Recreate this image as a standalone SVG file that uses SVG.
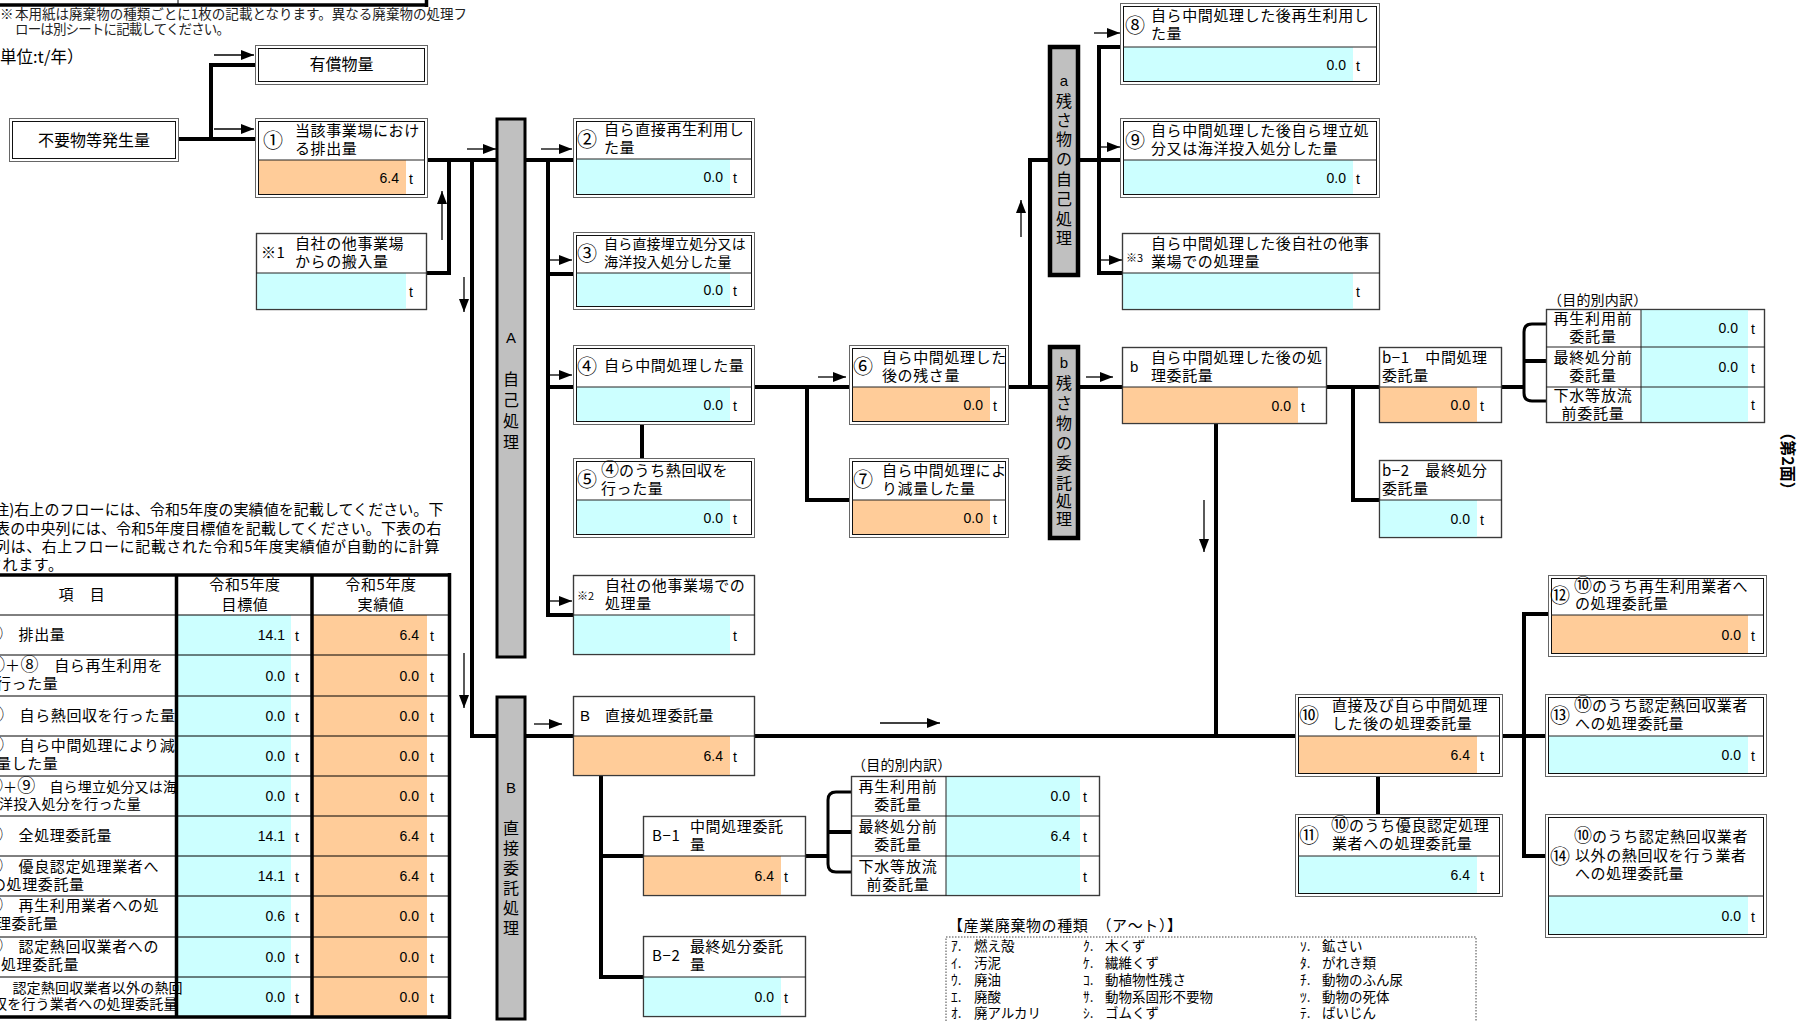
<svg xmlns="http://www.w3.org/2000/svg" width="1798" height="1021" viewBox="0 0 1798 1021">
<defs>
<marker id="ah" markerUnits="userSpaceOnUse" markerWidth="14" markerHeight="10" refX="13" refY="5" orient="auto"><path d="M0,0 L13,5 L0,10 z" fill="#000"/></marker>
<style>
.ob{fill:#fff;stroke:#666;stroke-width:1}
.ib{fill:none;stroke:#111;stroke-width:1}
.sb{fill:#fff;stroke:#3a3a3a;stroke-width:1.2}
.so{fill:none;stroke:#3a3a3a;stroke-width:1.2}
.sep{stroke:#222;stroke-width:1}
.or{fill:#FFCC99}
.cy{fill:#CCFFFF}
.bar{fill:#C0C0C0;stroke:#000;stroke-width:3}
.bar2{fill:#C0C0C0;stroke:#000;stroke-width:4.5}
.jt{font-family:"Noto Sans CJK JP","Noto Sans",sans-serif;font-size:15px;letter-spacing:0.6px;fill:#000}
.js{font-family:"Noto Sans CJK JP","Noto Sans",sans-serif;font-size:14px;letter-spacing:0.2px;fill:#000}
.jx{font-family:"Noto Sans CJK JP","Noto Sans",sans-serif;font-size:11px;fill:#000}
.jc{font-family:"Noto Sans CJK JP","Noto Sans",sans-serif;font-size:16px;fill:#000;text-anchor:middle}
.bt{font-family:"Noto Sans CJK JP","Noto Sans",sans-serif;font-size:16px;fill:#000;text-anchor:middle;dominant-baseline:central}
.lt{font-family:"Liberation Sans",Arial,sans-serif;font-size:15px;fill:#000}
.cn{font-family:"Noto Sans CJK JP","Noto Sans",sans-serif;font-size:20px;fill:#000}
.ci{font-size:18px;letter-spacing:0}
.num{font-family:"Liberation Sans",Arial,sans-serif;font-size:14px;text-anchor:end;fill:#000}
.unit{font-family:"Liberation Sans",Arial,sans-serif;font-size:14px;fill:#000}
.lc{font-family:"Noto Sans CJK JP","Noto Sans",sans-serif;font-size:15px;letter-spacing:0.8px;text-anchor:middle;fill:#000}
.note{font-family:"Noto Sans CJK JP","Noto Sans",sans-serif;font-size:13.5px;fill:#222}
.leg{font-family:"Noto Sans CJK JP","Noto Sans",sans-serif;font-size:13.5px;fill:#000}
.ln{fill:none;stroke:#000;stroke-width:4;stroke-linejoin:miter}
.br{fill:none;stroke:#000;stroke-width:3}
.ar{fill:none;stroke:#000;stroke-width:1.3;marker-end:url(#ah)}
.tl{stroke:#000;stroke-width:1}
.tk{stroke:#000;stroke-width:3.5}
</style>
</defs>
<rect width="1798" height="1021" fill="#fff"/>

<g id="header-fragment">
<line class="tk" x1="0" y1="5" x2="428" y2="5"/>
<line class="tl" x1="178" y1="0" x2="178" y2="4"/>
<line class="tk" x1="426.5" y1="0" x2="426.5" y2="7"/>
</g>

<g id="notes">
<text class="note" x="0" y="19">※</text>
<text class="note" x="15" y="19" textLength="452" lengthAdjust="spacing">本用紙は廃棄物の種類ごとに1枚の記載となります。異なる廃棄物の処理フ</text>
<text class="note" x="15" y="34" textLength="215" lengthAdjust="spacing">ローは別シートに記載してください。</text>
<text class="jt" x="0" y="63" style="font-size:16.5px;letter-spacing:0">単位:t/年）</text>
<text class="jt" x="-11" y="515" textLength="455" lengthAdjust="spacing">(注)右上のフローには、令和5年度の実績値を記載してください。下</text>
<text class="jt" x="-5" y="534" textLength="447" lengthAdjust="spacing">表の中央列には、令和5年度目標値を記載してください。下表の右</text>
<text class="jt" x="-5" y="552" textLength="445" lengthAdjust="spacing">列は、右上フローに記載された令和5年度実績値が自動的に計算</text>
<text class="jt" x="-13" y="570">されます。</text>
</g>

<g id="connectors">
<path class="ln" d="M179,139 H211 V65 H255"/>
<path class="ln" d="M211,139 H255"/>
<path class="ln" d="M428,160 H497"/>
<path class="ln" d="M427,273 H449 V160"/>
<path class="ln" d="M472,160 V736 H497"/>
<path class="ln" d="M525,160 H573"/>
<path class="ln" d="M548,160 V615 H573"/>
<path class="ln" d="M548,274 H573"/>
<path class="ln" d="M548,387 H573"/>
<path class="ln" d="M525,736 H573"/>
<path class="ln" d="M642,425 V458"/>
<path class="ln" d="M755,387 H849"/>
<path class="ln" d="M807,387 V500 H849"/>
<path class="ln" d="M1009,387 H1050"/>
<path class="ln" d="M1030,387 V160 H1050"/>
<path class="ln" d="M1078,160 H1120"/>
<path class="ln" d="M1120,47 H1099 V273 H1122"/>
<path class="ln" d="M1078,387 H1122"/>
<path class="ln" d="M1327,387 H1379"/>
<path class="ln" d="M1353,387 V500 H1379"/>
<path class="ln" d="M1502,387 H1524"/>
<path class="br" d="M1546,324 H1532 Q1524,324 1524,332 V393 Q1524,401 1532,401 H1546"/>
<path class="ln" d="M1524,361 H1546"/>
<path class="ln" d="M1216,424 V736"/>
<path class="ln" d="M755,736 H1295"/>
<path class="ln" d="M1378,777 V814"/>
<path class="ln" d="M1503,736 H1545"/>
<path class="ln" d="M1548,614 H1524 V856 H1545"/>
<path class="ln" d="M601,776 V977 H643"/>
<path class="ln" d="M601,856 H643"/>
<path class="ln" d="M806,856 H828"/>
<path class="br" d="M851,792 H836 Q828,792 828,800 V864 Q828,872 836,872 H851"/>
<path class="ln" d="M828,832 H851"/>
<path class="ar" d="M214,55 H254"/>
<path class="ar" d="M214,129 H254"/>
<path class="ar" d="M467,149 H496"/>
<path class="ar" d="M442,240 V191"/>
<path class="ar" d="M464,277 V312"/>
<path class="ar" d="M464,653 V708"/>
<path class="ar" d="M541,149 H572"/>
<path class="ar" d="M549,260 H572"/>
<path class="ar" d="M549,375 H572"/>
<path class="ar" d="M549,601 H572"/>
<path class="ar" d="M534,724 H562"/>
<path class="ar" d="M818,377 H846"/>
<path class="ar" d="M1021,237 V200"/>
<path class="ar" d="M1094,33 H1120"/>
<path class="ar" d="M1100,147 H1120"/>
<path class="ar" d="M1100,260 H1122"/>
<path class="ar" d="M1086,377 H1113"/>
<path class="ar" d="M1204,500 V552"/>
<path class="ar" d="M880,723 H940"/>
</g>

<g id="bar-A">
<rect class="bar" x="497" y="119" width="28" height="538"/>
<text class="lt" x="511" y="343" text-anchor="middle">A</text>
<text class="bt" x="511" y="378">自</text>
<text class="bt" x="511" y="399">己</text>
<text class="bt" x="511" y="420">処</text>
<text class="bt" x="511" y="441">理</text>
</g>
<g id="bar-B">
<rect class="bar" x="497" y="697" width="28" height="322"/>
<text class="lt" x="511" y="793" text-anchor="middle">B</text>
<text class="bt" x="511" y="827">直</text>
<text class="bt" x="511" y="847">接</text>
<text class="bt" x="511" y="867">委</text>
<text class="bt" x="511" y="887">託</text>
<text class="bt" x="511" y="907">処</text>
<text class="bt" x="511" y="927">理</text>
</g>
<g id="bar-a">
<rect class="bar2" x="1050" y="47" width="28" height="228"/>
<text class="lt" x="1064" y="86" text-anchor="middle" font-size="13">a</text>
<text class="bt" x="1064" y="100">残</text>
<text class="bt" x="1064" y="119">さ</text>
<text class="bt" x="1064" y="138">物</text>
<text class="bt" x="1064" y="158">の</text>
<text class="bt" x="1064" y="178">自</text>
<text class="bt" x="1064" y="198">己</text>
<text class="bt" x="1064" y="218">処</text>
<text class="bt" x="1064" y="237">理</text>
</g>
<g id="bar-b">
<rect class="bar2" x="1050" y="347" width="28" height="191"/>
<text class="lt" x="1064" y="368" text-anchor="middle" font-size="13">b</text>
<text class="bt" x="1064" y="382">残</text>
<text class="bt" x="1064" y="402">さ</text>
<text class="bt" x="1064" y="422">物</text>
<text class="bt" x="1064" y="442">の</text>
<text class="bt" x="1064" y="462">委</text>
<text class="bt" x="1064" y="482">託</text>
<text class="bt" x="1064" y="500">処</text>
<text class="bt" x="1064" y="518">理</text>
</g>

<g id="node-yushou">
<rect class="ob" x="255.5" y="45.5" width="172" height="39"/>
<rect class="ib" x="258.5" y="48.5" width="166" height="33"/>
<text class="jc" x="341.5" y="70">有償物量</text>
</g>
<g id="node-fuyou">
<rect class="ob" x="9.5" y="118.5" width="169" height="43"/>
<rect class="ib" x="12.5" y="121.5" width="163" height="37"/>
<text class="jc" x="94" y="146">不要物等発生量</text>
</g>

<g id="node-1">
<rect class="ob" x="255.5" y="118.5" width="172" height="79"/>
<rect class="or" x="258" y="160" width="148" height="35"/>
<rect class="ib" x="258.5" y="121.5" width="166" height="73"/>
<line class="sep" x1="258" y1="160" x2="425" y2="160"/>
<text class="cn" x="263" y="148">①</text>
<text class="jt" x="295" y="136">当該事業場におけ</text>
<text class="jt" x="295" y="154">る排出量</text>
<text class="num" x="399" y="183">6.4</text>
<text class="unit" x="409" y="184">t</text>
</g>

<g id="node-x1">
<rect class="sb" x="256.5" y="233.5" width="170" height="76"/>
<rect class="cy" x="257" y="273" width="149" height="36"/>
<rect class="so" x="256.5" y="233.5" width="170" height="76"/>
<line class="sep" x1="256" y1="273" x2="427" y2="273"/>
<text class="jt" x="261" y="258">※1</text>
<text class="jt" x="295" y="249">自社の他事業場</text>
<text class="jt" x="295" y="267">からの搬入量</text>
<text class="unit" x="409" y="297">t</text>
</g>

<g id="node-2">
<rect class="ob" x="573.5" y="118.5" width="181" height="79"/>
<rect class="cy" x="576" y="159" width="154" height="36"/>
<rect class="ib" x="576.5" y="121.5" width="175" height="73"/>
<line class="sep" x1="576" y1="159" x2="752" y2="159"/>
<text class="cn" x="577" y="147">②</text>
<text class="jt" x="604" y="135">自ら直接再生利用し</text>
<text class="jt" x="604" y="153">た量</text>
<text class="num" x="723" y="182">0.0</text>
<text class="unit" x="733" y="183">t</text>
</g>

<g id="node-3">
<rect class="ob" x="573.5" y="232.5" width="181" height="77"/>
<rect class="cy" x="576" y="273" width="154" height="34"/>
<rect class="ib" x="576.5" y="235.5" width="175" height="71"/>
<line class="sep" x1="576" y1="273" x2="752" y2="273"/>
<text class="cn" x="577" y="261">③</text>
<text class="js" x="604" y="249">自ら直接埋立処分又は</text>
<text class="js" x="604" y="267">海洋投入処分した量</text>
<text class="num" x="723" y="295">0.0</text>
<text class="unit" x="733" y="296">t</text>
</g>

<g id="node-4">
<rect class="ob" x="573.5" y="345.5" width="181" height="79"/>
<rect class="cy" x="576" y="387" width="154" height="35"/>
<rect class="ib" x="576.5" y="348.5" width="175" height="73"/>
<line class="sep" x1="576" y1="387" x2="752" y2="387"/>
<text class="cn" x="577" y="374">④</text>
<text class="jt" x="604" y="371">自ら中間処理した量</text>
<text class="num" x="723" y="410">0.0</text>
<text class="unit" x="733" y="411">t</text>
</g>

<g id="node-5">
<rect class="ob" x="573.5" y="458.5" width="181" height="79"/>
<rect class="cy" x="576" y="500" width="154" height="35"/>
<rect class="ib" x="576.5" y="461.5" width="175" height="73"/>
<line class="sep" x1="576" y1="500" x2="752" y2="500"/>
<text class="cn" x="577" y="487">⑤</text>
<text class="jt" x="601" y="476"><tspan class="ci">④</tspan>のうち熱回収を</text>
<text class="jt" x="601" y="494">行った量</text>
<text class="num" x="723" y="523">0.0</text>
<text class="unit" x="733" y="524">t</text>
</g>

<g id="node-x2">
<rect class="sb" x="573.5" y="575.5" width="181" height="79"/>
<rect class="cy" x="574" y="615" width="156" height="39"/>
<rect class="so" x="573.5" y="575.5" width="181" height="79"/>
<line class="sep" x1="573" y1="615" x2="755" y2="615"/>
<text class="jx" x="577" y="600">※2</text>
<text class="jt" x="605" y="591">自社の他事業場での</text>
<text class="jt" x="605" y="609">処理量</text>
<text class="unit" x="733" y="641">t</text>
</g>

<g id="node-6">
<rect class="ob" x="849.5" y="345.5" width="159" height="79"/>
<rect class="or" x="852" y="387" width="138" height="35"/>
<rect class="ib" x="852.5" y="348.5" width="153" height="73"/>
<line class="sep" x1="852" y1="387" x2="1006" y2="387"/>
<text class="cn" x="853" y="374">⑥</text>
<text class="jt" x="882" y="363">自ら中間処理した</text>
<text class="jt" x="882" y="381">後の残さ量</text>
<text class="num" x="983" y="410">0.0</text>
<text class="unit" x="993" y="411">t</text>
</g>

<g id="node-7">
<rect class="ob" x="849.5" y="458.5" width="159" height="79"/>
<rect class="or" x="852" y="500" width="138" height="35"/>
<rect class="ib" x="852.5" y="461.5" width="153" height="73"/>
<line class="sep" x1="852" y1="500" x2="1006" y2="500"/>
<text class="cn" x="853" y="487">⑦</text>
<text class="jt" x="882" y="476">自ら中間処理によ</text>
<text class="jt" x="882" y="494">り減量した量</text>
<text class="num" x="983" y="523">0.0</text>
<text class="unit" x="993" y="524">t</text>
</g>

<g id="node-8">
<rect class="ob" x="1120.5" y="3.5" width="259" height="81"/>
<rect class="cy" x="1123" y="47" width="230" height="35"/>
<rect class="ib" x="1123.5" y="6.5" width="253" height="75"/>
<line class="sep" x1="1123" y1="47" x2="1377" y2="47"/>
<text class="cn" x="1125" y="33">⑧</text>
<text class="jt" x="1151" y="21">自ら中間処理した後再生利用し</text>
<text class="jt" x="1151" y="39">た量</text>
<text class="num" x="1346" y="70">0.0</text>
<text class="unit" x="1356" y="71">t</text>
</g>

<g id="node-9">
<rect class="ob" x="1120.5" y="118.5" width="259" height="79"/>
<rect class="cy" x="1123" y="160" width="230" height="35"/>
<rect class="ib" x="1123.5" y="121.5" width="253" height="73"/>
<line class="sep" x1="1123" y1="160" x2="1377" y2="160"/>
<text class="cn" x="1125" y="148">⑨</text>
<text class="jt" x="1151" y="136">自ら中間処理した後自ら埋立処</text>
<text class="jt" x="1151" y="154">分又は海洋投入処分した量</text>
<text class="num" x="1346" y="183">0.0</text>
<text class="unit" x="1356" y="184">t</text>
</g>

<g id="node-x3">
<rect class="sb" x="1122.5" y="233.5" width="257" height="76"/>
<rect class="cy" x="1123" y="273" width="230" height="36"/>
<rect class="so" x="1122.5" y="233.5" width="257" height="76"/>
<line class="sep" x1="1122" y1="273" x2="1380" y2="273"/>
<text class="jx" x="1126" y="262">※3</text>
<text class="jt" x="1151" y="249">自ら中間処理した後自社の他事</text>
<text class="jt" x="1151" y="267">業場での処理量</text>
<text class="unit" x="1356" y="297">t</text>
</g>

<g id="node-b">
<rect class="sb" x="1122.5" y="347.5" width="204" height="76"/>
<rect class="or" x="1123" y="387" width="175" height="36"/>
<rect class="so" x="1122.5" y="347.5" width="204" height="76"/>
<line class="sep" x1="1122" y1="387" x2="1327" y2="387"/>
<text class="lt" x="1130" y="372">b</text>
<text class="jt" x="1151" y="363">自ら中間処理した後の処</text>
<text class="jt" x="1151" y="381">理委託量</text>
<text class="num" x="1291" y="411">0.0</text>
<text class="unit" x="1301" y="412">t</text>
</g>

<g id="node-b1">
<rect class="sb" x="1379.5" y="347.5" width="122" height="75"/>
<rect class="or" x="1380" y="387" width="97" height="35"/>
<rect class="so" x="1379.5" y="347.5" width="122" height="75"/>
<line class="sep" x1="1379" y1="387" x2="1502" y2="387"/>
<text class="jt" x="1382" y="363">b−1　中間処理</text>
<text class="jt" x="1382" y="381">委託量</text>
<text class="num" x="1470" y="410">0.0</text>
<text class="unit" x="1480" y="411">t</text>
</g>

<g id="node-b2">
<rect class="sb" x="1379.5" y="460.5" width="122" height="77"/>
<rect class="cy" x="1380" y="500" width="97" height="37"/>
<rect class="so" x="1379.5" y="460.5" width="122" height="77"/>
<line class="sep" x1="1379" y1="500" x2="1502" y2="500"/>
<text class="jt" x="1382" y="476">b−2　最終処分</text>
<text class="jt" x="1382" y="494">委託量</text>
<text class="num" x="1470" y="524">0.0</text>
<text class="unit" x="1480" y="525">t</text>
</g>

<g id="breakdown-b1">
<text class="js" x="1548" y="305">（目的別内訳）</text>
<rect class="sb" x="1546.5" y="309.5" width="218" height="113"/>
<rect class="cy" x="1641" y="310" width="107" height="112"/>
<rect class="so" x="1546.5" y="309.5" width="218" height="113"/>
<line class="sep" x1="1641" y1="310" x2="1641" y2="423"/>
<line class="sep" x1="1546" y1="347" x2="1765" y2="347"/>
<line class="sep" x1="1546" y1="387" x2="1765" y2="387"/>
<text class="lc" x="1593" y="324">再生利用前</text>
<text class="lc" x="1593" y="342">委託量</text>
<text class="lc" x="1593" y="363">最終処分前</text>
<text class="lc" x="1593" y="381">委託量</text>
<text class="lc" x="1593" y="401">下水等放流</text>
<text class="lc" x="1593" y="419">前委託量</text>
<text class="num" x="1738" y="333">0.0</text>
<text class="unit" x="1751" y="334">t</text>
<text class="num" x="1738" y="372">0.0</text>
<text class="unit" x="1751" y="373">t</text>
<text class="unit" x="1751" y="410">t</text>
</g>

<g id="node-B">
<rect class="sb" x="573.5" y="696.5" width="181" height="79"/>
<rect class="or" x="574" y="736" width="156" height="39"/>
<rect class="so" x="573.5" y="696.5" width="181" height="79"/>
<line class="sep" x1="573" y1="736" x2="755" y2="736"/>
<text class="lt" x="580" y="721">B</text>
<text class="jt" x="605" y="721">直接処理委託量</text>
<text class="num" x="723" y="761">6.4</text>
<text class="unit" x="733" y="762">t</text>
</g>

<g id="node-B1">
<rect class="sb" x="643.5" y="816.5" width="162" height="79"/>
<rect class="or" x="644" y="856" width="137" height="39"/>
<rect class="so" x="643.5" y="816.5" width="162" height="79"/>
<line class="sep" x1="643" y1="856" x2="806" y2="856"/>
<text class="jt" x="652" y="841">B−1</text>
<text class="jt" x="690" y="832">中間処理委託</text>
<text class="jt" x="690" y="850">量</text>
<text class="num" x="774" y="881">6.4</text>
<text class="unit" x="784" y="882">t</text>
</g>

<g id="node-B2">
<rect class="sb" x="643.5" y="936.5" width="162" height="80"/>
<rect class="cy" x="644" y="977" width="137" height="39"/>
<rect class="so" x="643.5" y="936.5" width="162" height="80"/>
<line class="sep" x1="643" y1="977" x2="806" y2="977"/>
<text class="jt" x="652" y="961">B−2</text>
<text class="jt" x="690" y="952">最終処分委託</text>
<text class="jt" x="690" y="970">量</text>
<text class="num" x="774" y="1002">0.0</text>
<text class="unit" x="784" y="1003">t</text>
</g>

<g id="breakdown-B1">
<text class="js" x="852" y="770">（目的別内訳）</text>
<rect class="sb" x="851.5" y="776.5" width="248" height="119"/>
<rect class="cy" x="946" y="777" width="134" height="118"/>
<rect class="so" x="851.5" y="776.5" width="248" height="119"/>
<line class="sep" x1="946" y1="776" x2="946" y2="896"/>
<line class="sep" x1="851" y1="816" x2="1100" y2="816"/>
<line class="sep" x1="851" y1="856" x2="1100" y2="856"/>
<text class="lc" x="898" y="792">再生利用前</text>
<text class="lc" x="898" y="810">委託量</text>
<text class="lc" x="898" y="832">最終処分前</text>
<text class="lc" x="898" y="850">委託量</text>
<text class="lc" x="898" y="872">下水等放流</text>
<text class="lc" x="898" y="890">前委託量</text>
<text class="num" x="1070" y="801">0.0</text>
<text class="unit" x="1083" y="802">t</text>
<text class="num" x="1070" y="841">6.4</text>
<text class="unit" x="1083" y="842">t</text>
<text class="unit" x="1083" y="882">t</text>
</g>

<g id="node-10">
<rect class="ob" x="1295.5" y="694.5" width="207" height="82"/>
<rect class="or" x="1298" y="736" width="179" height="38"/>
<rect class="ib" x="1298.5" y="697.5" width="201" height="76"/>
<line class="sep" x1="1298" y1="736" x2="1500" y2="736"/>
<text class="cn" x="1299" y="723">⑩</text>
<text class="jt" x="1332" y="711">直接及び自ら中間処理</text>
<text class="jt" x="1332" y="729">した後の処理委託量</text>
<text class="num" x="1470" y="760">6.4</text>
<text class="unit" x="1480" y="761">t</text>
</g>

<g id="node-11">
<rect class="ob" x="1295.5" y="814.5" width="207" height="82"/>
<rect class="cy" x="1298" y="856" width="179" height="38"/>
<rect class="ib" x="1298.5" y="817.5" width="201" height="76"/>
<line class="sep" x1="1298" y1="856" x2="1500" y2="856"/>
<text class="cn" x="1299" y="843">⑪</text>
<text class="jt" x="1331" y="831"><tspan class="ci">⑩</tspan>のうち優良認定処理</text>
<text class="jt" x="1332" y="849">業者への処理委託量</text>
<text class="num" x="1470" y="880">6.4</text>
<text class="unit" x="1480" y="881">t</text>
</g>

<g id="node-12">
<rect class="ob" x="1548.5" y="575.5" width="218" height="81"/>
<rect class="or" x="1551" y="615" width="197" height="39"/>
<rect class="ib" x="1551.5" y="578.5" width="212" height="75"/>
<line class="sep" x1="1551" y1="615" x2="1764" y2="615"/>
<text class="cn" x="1550" y="603">⑫</text>
<text class="jt" x="1574" y="592"><tspan class="ci">⑩</tspan>のうち再生利用業者へ</text>
<text class="jt" x="1575" y="609">の処理委託量</text>
<text class="num" x="1741" y="640">0.0</text>
<text class="unit" x="1751" y="641">t</text>
</g>

<g id="node-13">
<rect class="ob" x="1545.5" y="694.5" width="221" height="82"/>
<rect class="cy" x="1548" y="736" width="200" height="38"/>
<rect class="ib" x="1548.5" y="697.5" width="215" height="76"/>
<line class="sep" x1="1548" y1="736" x2="1764" y2="736"/>
<text class="cn" x="1550" y="723">⑬</text>
<text class="jt" x="1574" y="711"><tspan class="ci">⑩</tspan>のうち認定熱回収業者</text>
<text class="jt" x="1575" y="729">への処理委託量</text>
<text class="num" x="1741" y="760">0.0</text>
<text class="unit" x="1751" y="761">t</text>
</g>

<g id="node-14">
<rect class="ob" x="1545.5" y="814.5" width="221" height="123"/>
<rect class="cy" x="1548" y="896" width="200" height="39"/>
<rect class="ib" x="1548.5" y="817.5" width="215" height="117"/>
<line class="sep" x1="1548" y1="896" x2="1764" y2="896"/>
<text class="cn" x="1550" y="864">⑭</text>
<text class="jt" x="1574" y="842"><tspan class="ci">⑩</tspan>のうち認定熱回収業者</text>
<text class="jt" x="1575" y="861">以外の熱回収を行う業者</text>
<text class="jt" x="1575" y="879">への処理委託量</text>
<text class="num" x="1741" y="921">0.0</text>
<text class="unit" x="1751" y="922">t</text>
</g>

<g id="summary-table">
<rect class="cy" x="177" y="615" width="114" height="402"/>
<rect class="or" x="312" y="615" width="115" height="402"/>
<line class="tl" x1="0" y1="615" x2="450" y2="615"/>
<line class="tl" x1="0" y1="655" x2="450" y2="655"/>
<line class="tl" x1="0" y1="696" x2="450" y2="696"/>
<line class="tl" x1="0" y1="736" x2="450" y2="736"/>
<line class="tl" x1="0" y1="776" x2="450" y2="776"/>
<line class="tl" x1="0" y1="816" x2="450" y2="816"/>
<line class="tl" x1="0" y1="856" x2="450" y2="856"/>
<line class="tl" x1="0" y1="896" x2="450" y2="896"/>
<line class="tl" x1="0" y1="937" x2="450" y2="937"/>
<line class="tl" x1="0" y1="977" x2="450" y2="977"/>
<line class="tk" x1="0" y1="575" x2="451" y2="575"/>
<line class="tk" x1="0" y1="1017" x2="451" y2="1017"/>
<line class="tk" x1="176.5" y1="575" x2="176.5" y2="1017"/>
<line class="tk" x1="312" y1="575" x2="312" y2="1017"/>
<line class="tk" x1="449.5" y1="573" x2="449.5" y2="1019"/>
<text class="jt" x="82" y="600" text-anchor="middle">項　目</text>
<text class="jt" x="245" y="590" text-anchor="middle">令和5年度</text>
<text class="jt" x="245" y="610" text-anchor="middle">目標値</text>
<text class="jt" x="381" y="590" text-anchor="middle">令和5年度</text>
<text class="jt" x="381" y="610" text-anchor="middle">実績値</text>
<text class="jt" x="-15" y="640"><tspan class="ci">①</tspan>　排出量</text>
<text class="jt" x="-13" y="671"><tspan class="ci">②</tspan>＋<tspan class="ci">⑧</tspan>　自ら再生利用を</text>
<text class="jt" x="-4" y="689">行った量</text>
<text class="jt" x="-14" y="721"><tspan class="ci">⑤</tspan>　自ら熱回収を行った量</text>
<text class="jt" x="-14" y="751"><tspan class="ci">⑦</tspan>　自ら中間処理により減</text>
<text class="jt" x="-4" y="769">量した量</text>
<text class="js" x="-15" y="792"><tspan class="ci">③</tspan>＋<tspan class="ci">⑨</tspan>　自ら埋立処分又は海</text>
<text class="js" x="-1" y="809">洋投入処分を行った量</text>
<text class="jt" x="-15" y="841"><tspan class="ci">⑩</tspan>　全処理委託量</text>
<text class="jt" x="-15" y="872"><tspan class="ci">⑪</tspan>　優良認定処理業者へ</text>
<text class="jt" x="-9" y="890">の処理委託量</text>
<text class="jt" x="-15" y="911"><tspan class="ci">⑫</tspan>　再生利用業者への処</text>
<text class="jt" x="-4" y="929">理委託量</text>
<text class="jt" x="-15" y="952"><tspan class="ci">⑬</tspan>　認定熱回収業者への</text>
<text class="jt" x="1" y="970">処理委託量</text>
<text class="js" x="-16" y="993" font-size="13">⑭　認定熱回収業者以外の熱回</text>
<text class="js" x="-7" y="1009" font-size="13">収を行う業者への処理委託量</text>
<text class="num" x="285" y="640">14.1</text><text class="unit" x="295" y="641">t</text>
<text class="num" x="285" y="681">0.0</text><text class="unit" x="295" y="682">t</text>
<text class="num" x="285" y="721">0.0</text><text class="unit" x="295" y="722">t</text>
<text class="num" x="285" y="761">0.0</text><text class="unit" x="295" y="762">t</text>
<text class="num" x="285" y="801">0.0</text><text class="unit" x="295" y="802">t</text>
<text class="num" x="285" y="841">14.1</text><text class="unit" x="295" y="842">t</text>
<text class="num" x="285" y="881">14.1</text><text class="unit" x="295" y="882">t</text>
<text class="num" x="285" y="921">0.6</text><text class="unit" x="295" y="922">t</text>
<text class="num" x="285" y="962">0.0</text><text class="unit" x="295" y="963">t</text>
<text class="num" x="285" y="1002">0.0</text><text class="unit" x="295" y="1003">t</text>
<text class="num" x="419" y="640">6.4</text><text class="unit" x="430" y="641">t</text>
<text class="num" x="419" y="681">0.0</text><text class="unit" x="430" y="682">t</text>
<text class="num" x="419" y="721">0.0</text><text class="unit" x="430" y="722">t</text>
<text class="num" x="419" y="761">0.0</text><text class="unit" x="430" y="762">t</text>
<text class="num" x="419" y="801">0.0</text><text class="unit" x="430" y="802">t</text>
<text class="num" x="419" y="841">6.4</text><text class="unit" x="430" y="842">t</text>
<text class="num" x="419" y="881">6.4</text><text class="unit" x="430" y="882">t</text>
<text class="num" x="419" y="921">0.0</text><text class="unit" x="430" y="922">t</text>
<text class="num" x="419" y="962">0.0</text><text class="unit" x="430" y="963">t</text>
<text class="num" x="419" y="1002">0.0</text><text class="unit" x="430" y="1003">t</text>
</g>

<g id="legend">
<text class="jt" x="948" y="931" font-size="14">【産業廃棄物の種類　（ア～ト）】</text>
<path d="M946,1021 V937 H1476 V1021" fill="none" stroke="#444" stroke-width="1" stroke-dasharray="1.5,1.5"/>
<text class="leg" x="951" y="951">ｱ.</text><text class="leg" x="974" y="951">燃え殻</text>
<text class="leg" x="951" y="968">ｲ.</text><text class="leg" x="974" y="968">汚泥</text>
<text class="leg" x="951" y="985">ｳ.</text><text class="leg" x="974" y="985">廃油</text>
<text class="leg" x="951" y="1002">ｴ.</text><text class="leg" x="974" y="1002">廃酸</text>
<text class="leg" x="951" y="1018">ｵ.</text><text class="leg" x="974" y="1018">廃アルカリ</text>
<text class="leg" x="1083" y="951">ｸ.</text><text class="leg" x="1105" y="951">木くず</text>
<text class="leg" x="1083" y="968">ｹ.</text><text class="leg" x="1105" y="968">繊維くず</text>
<text class="leg" x="1083" y="985">ｺ.</text><text class="leg" x="1105" y="985">動植物性残さ</text>
<text class="leg" x="1083" y="1002">ｻ.</text><text class="leg" x="1105" y="1002">動物系固形不要物</text>
<text class="leg" x="1083" y="1018">ｼ.</text><text class="leg" x="1105" y="1018">ゴムくず</text>
<text class="leg" x="1300" y="951">ｿ.</text><text class="leg" x="1322" y="951">鉱さい</text>
<text class="leg" x="1300" y="968">ﾀ.</text><text class="leg" x="1322" y="968">がれき類</text>
<text class="leg" x="1300" y="985">ﾁ.</text><text class="leg" x="1322" y="985">動物のふん尿</text>
<text class="leg" x="1300" y="1002">ﾂ.</text><text class="leg" x="1322" y="1002">動物の死体</text>
<text class="leg" x="1300" y="1018">ﾃ.</text><text class="leg" x="1322" y="1018">ばいじん</text>
</g>

<g id="page-label">
<text class="jt" x="1789" y="461" text-anchor="middle" dominant-baseline="central" transform="rotate(90 1789 461)" style="font-size:16px;font-weight:700;letter-spacing:0">（第2面）</text>
</g>
</svg>
